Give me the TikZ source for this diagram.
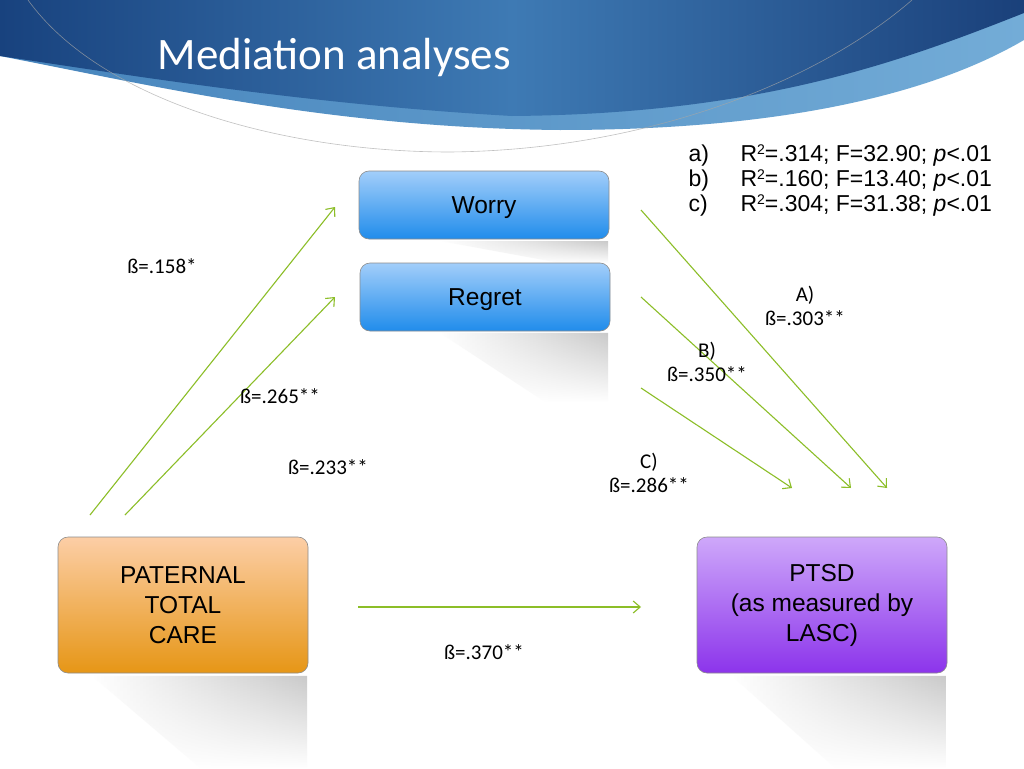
\documentclass[tikz,border=0pt]{standalone}
\usepackage{fontspec}
\setmainfont{Liberation Sans}
\newfontfamily\calibri{Carlito}
\usetikzlibrary{arrows.meta,fadings}
\definecolor{arrowgreen}{RGB}{140,190,40}
\definecolor{navyleft}{RGB}{24,66,126}
\definecolor{navymid}{RGB}{62,122,180}
\definecolor{navyright}{RGB}{26,64,122}
\definecolor{bandleft}{RGB}{70,132,188}
\definecolor{bandright}{RGB}{115,172,215}
\definecolor{worrytop}{RGB}{162,206,250}
\definecolor{worrybot}{RGB}{32,140,235}
\definecolor{caretop}{RGB}{252,206,166}
\definecolor{carebot}{RGB}{230,150,22}
\definecolor{ptsdtop}{RGB}{206,168,250}
\definecolor{ptsdbot}{RGB}{140,52,235}
\tikzfading[name=shadowfade, top color=transparent!20, bottom color=transparent!100]
\newcommand{\sqr}{\raisebox{.55ex}{\fontsize{14}{14}\selectfont 2}}
\begin{document}
\begin{tikzpicture}[x=1pt,y=-1pt,
  varbox/.style={rounded corners=10pt, minimum width=250pt, draw=black!45, line width=.6pt,
    align=center, font=\fontsize{24.5}{30}\selectfont},
  mediator/.style={varbox, minimum height=68pt, text height=23pt, top color=worrytop, bottom color=worrybot},
  predictor/.style={varbox, minimum height=136pt, top color=caretop, bottom color=carebot},
  outcome/.style={varbox, minimum height=136pt, top color=ptsdtop, bottom color=ptsdbot},
  effect/.style={arrowgreen, line width=1.1pt, -{Straight Barb[length=7pt,width=12pt]}},
  beta/.style={align=center, font=\calibri\fontsize{21}{24}\selectfont},
  stat/.style={anchor=base west, font=\fontsize{23}{25}\selectfont},
  shadowband/.style={left color=white, right color=black!26, path fading=shadowfade}]
\useasboundingbox (0,0) rectangle (1024,768);
\fill[white] (0,0) rectangle (1024,768);

% header
\shade[left color=bandleft, right color=bandright] (0,0) -- (1024,0) -- (1024,40)
  .. controls (930,95) and (780,130) .. (560,130) .. controls (330,128) and (150,85) .. (0,56) -- cycle;
\shade[left color=navyleft, right color=navyright, middle color=navymid] (0,0) -- (1024,0) -- (1024,13)
  .. controls (900,62) and (760,114) .. (512,116) .. controls (300,104) and (110,72) .. (0,56) -- cycle;
\draw[black!35, line width=.6pt, opacity=.7] (28,0) .. controls (100,100) and (280,152) .. (450,152)
  .. controls (650,150) and (820,80) .. (912,0);
\node[anchor=base west, text=white, font=\calibri\fontsize{45}{48}\selectfont] (title) at (154,70) {Mediation analyses};

% shadows
\shade[shadowband] (440,241) -- (608,241) -- (608,263) -- (560,263) -- cycle;
\shade[shadowband] (440,333) -- (608,333) -- (608,402) -- (545,402) -- cycle;
\shade[shadowband] (92,676) -- (307,676) -- (307,768) -- (200,768) -- cycle;
\shade[shadowband] (732,676) -- (946,676) -- (946,768) -- (835,768) -- cycle;

\node[mediator] (worry) at (484,205) {Worry};
\node[mediator] (regret) at (485,297) {Regret};
\node[predictor] (care) at (183,605) {PATERNAL\\TOTAL\\CARE};
\node[outcome] (ptsd) at (822,605) {PTSD\\(as measured by\\LASC)};

\coordinate (careW) at (90,515);
\coordinate (worryIn) at (335,207);
\coordinate (careR) at (125,515);
\coordinate (regretIn) at (335,297);
\coordinate (worryOut) at (641,210);
\coordinate (ptsdA) at (887,488);
\coordinate (regretOut) at (641,297);
\coordinate (ptsdB) at (851,488);
\coordinate (bothOut) at (641,388);
\coordinate (ptsdC) at (792,488);
\coordinate (careOut) at (358,607);
\coordinate (ptsdIn) at (641,607);

\draw[effect] (careW) -- (worryIn);
\draw[effect] (careR) -- (regretIn);
\draw[effect] (worryOut) -- (ptsdA);
\draw[effect] (regretOut) -- (ptsdB);
\draw[effect] (bothOut) -- (ptsdC);
\draw[effect] (careOut) -- (ptsdIn);

\node[beta] (b158) at (162,266) {ß=.158*};
\node[beta] (b265) at (280,396) {ß=.265**};
\node[beta] (b233) at (328,467) {ß=.233**};
\node[beta] (b303) at (805,306) {A)\\ß=.303**};
\node[beta] (b350) at (707,362) {B)\\ß=.350**};
\node[beta] (b286) at (649,473) {C)\\ß=.286**};
\node[beta] (b370) at (484,652) {ß=.370**};

\node[stat] (stata) at (685,161) {\makebox[52pt][l]{a)}R\sqr=.314; F=32.90; \textit{p}<.01};
\node[stat] (statb) at (685,186) {\makebox[52pt][l]{b)}R\sqr=.160; F=13.40; \textit{p}<.01};
\node[stat] (statc) at (685,211) {\makebox[52pt][l]{c)}R\sqr=.304; F=31.38; \textit{p}<.01};
\end{tikzpicture}
\end{document}
